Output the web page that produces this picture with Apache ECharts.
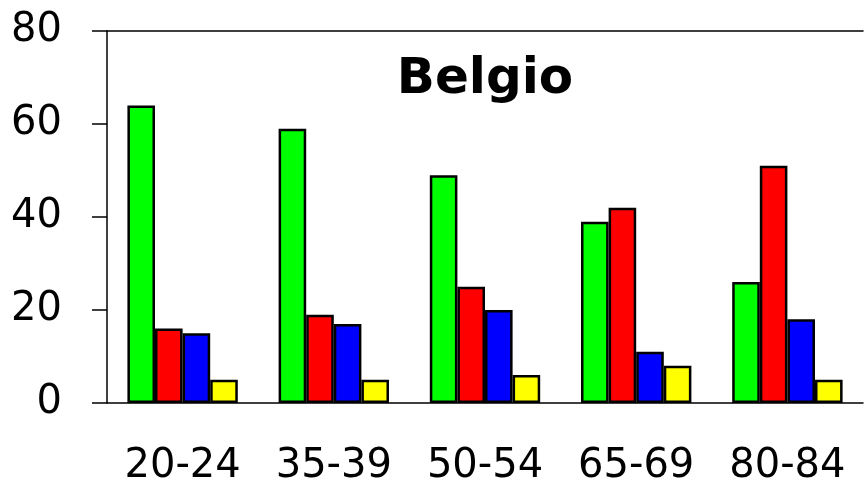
<!DOCTYPE html>
<html><head><meta charset="utf-8">
<script src="https://cdn.jsdelivr.net/npm/echarts@6/dist/echarts.min.js"></script>
<style>html,body{margin:0;padding:0;background:#fff}#c{width:865px;height:485px}</style>
</head><body><div id="c"></div>
<script>
const categories = ['20-24','35-39','50-54','65-69','80-84'];
const greenValues = [64, 59, 49, 39, 26];
const redValues = [16, 19, 25, 42, 51];
const blueValues = [15, 17, 20, 11, 18];
const yellowValues = [5, 5, 6, 8, 5];
const yTicks = [0, 20, 40, 60, 80];
const titleText = 'Belgio';

const font = '"Comic Sans MS", "DejaVu Sans", sans-serif';
function bar(name, data, color){
  return {name, type:'bar', data, barGap:'0%', barCategoryGap:'27%',
    itemStyle:{color, borderColor:'#000', borderWidth:2.5}};
}
const chart = echarts.init(document.getElementById('c'));
chart.setOption({
  animation:false,
  title:{text:titleText, left:480, top:50, textAlign:'center',
    textStyle:{fontFamily:font, fontWeight:'bold', fontSize:50, color:'#000'}},
  grid:{left:107, right:2, top:31, bottom:82, containLabel:false, outerBoundsMode:'none'},
  xAxis:[{type:'category', data:categories,
    axisLine:{lineStyle:{color:'#000', width:1.5}},
    axisTick:{length:15, lineStyle:{color:'#000', width:1.5}},
    axisLabel:{fontFamily:font, fontSize:40, color:'#000', margin:44}},
    {type:'category', position:'top', data:categories,
     axisLine:{show:true, lineStyle:{color:'#000', width:1.5}},
     axisTick:{show:false}, axisLabel:{show:false}}],
  yAxis:{type:'value', min:yTicks[0], max:yTicks[yTicks.length-1], interval:20,
    axisLine:{show:true, lineStyle:{color:'#000', width:1.5}},
    axisTick:{show:true, length:15, lineStyle:{color:'#000', width:1.5}},
    splitLine:{show:false},
    axisLabel:{fontFamily:font, fontSize:40, color:'#000', margin:45}},
  series:[bar('g',greenValues,'#00ff00'), bar('r',redValues,'#ff0000'),
          bar('b',blueValues,'#0000ff'), bar('y',yellowValues,'#ffff00')]
});
</script></body></html>
